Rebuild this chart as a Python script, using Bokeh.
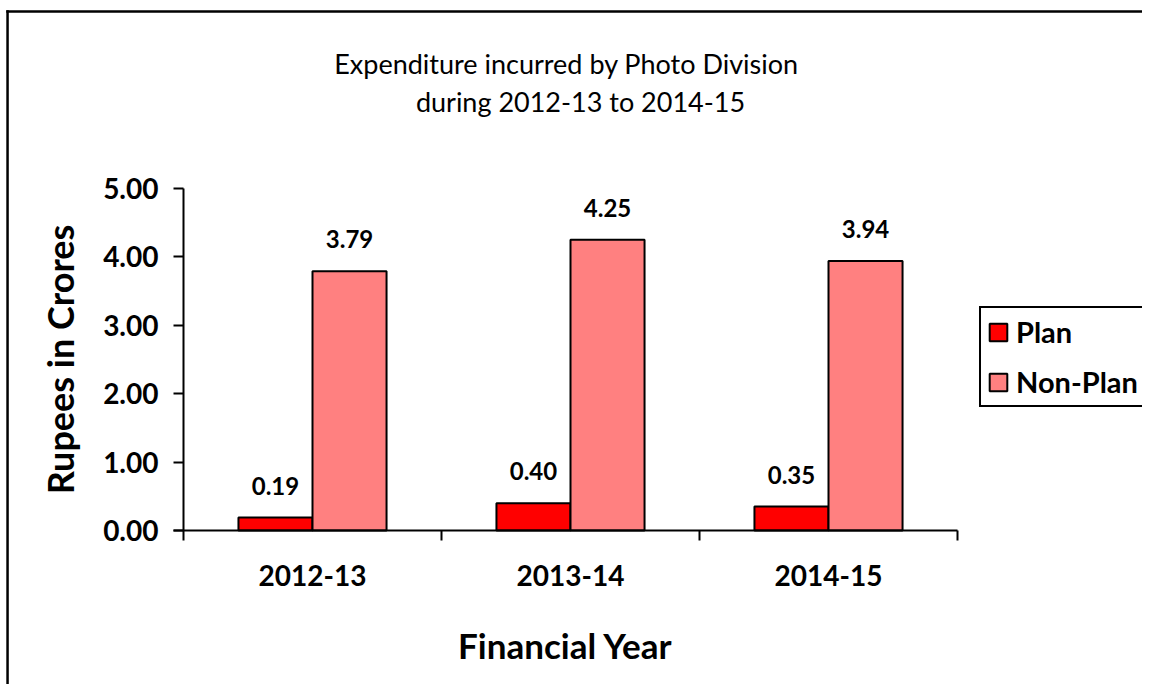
from bokeh.plotting import figure
from bokeh.models import (ColumnDataSource, FixedTicker, LabelSet, Label, Legend,
                          LegendItem, BoxAnnotation, Range1d)
from bokeh.core.properties import value
from bokeh.embed import file_html
from bokeh.resources import INLINE

years = ["2012-13", "2013-14", "2014-15"]
plan = [0.19, 0.40, 0.35]
non_plan = [3.79, 4.25, 3.94]
y_ticks = [0, 1, 2, 3, 4, 5]

FONT = "Lato"
BAR_W = 0.287
OFF = 0.1435

W, H = 1142, 684
# pixel geometry of the plotting area (axes drawn at fixed locations)
X0_PX, X_UNIT = 183.0, 258.0      # x=0 position, px per category
Y0_PX, Y_UNIT = 530.0, 68.4       # y=0 position, px per unit

def dx(px):
    return (px - X0_PX) / X_UNIT

def dy(py):
    return (Y0_PX - py) / Y_UNIT

idx = list(range(len(years)))
src_plan = ColumnDataSource(dict(x=[i + 0.5 - OFF for i in idx], top=plan,
                                 lab=["%.2f" % v for v in plan]))
src_np = ColumnDataSource(dict(x=[i + 0.5 + OFF for i in idx], top=non_plan,
                               lab=["%.2f" % v for v in non_plan]))

p = figure(width=W, height=H, output_backend="svg", toolbar_location=None,
           x_range=Range1d(dx(0), dx(W)), y_range=Range1d(dy(H), dy(0)),
           min_border=0)
p.outline_line_color = None
p.xgrid.visible = False
p.ygrid.visible = False
p.background_fill_color = "white"
p.border_fill_color = "white"

# chart-area border: thin filled strips along the left and top edges
p.add_layout(BoxAnnotation(left=dx(5.8), right=dx(W), top=dy(9.8), bottom=dy(12.3),
                           fill_color="black", fill_alpha=1, line_color=None,
                           level="underlay"))
p.add_layout(BoxAnnotation(left=dx(5.8), right=dx(8.3), top=dy(9.8), bottom=dy(H),
                           fill_color="black", fill_alpha=1, line_color=None,
                           level="underlay"))

r1 = p.vbar(x="x", top="top", width=BAR_W, bottom=0, source=src_plan,
            fill_color="#FF0000", line_color="black", line_width=2)
r2 = p.vbar(x="x", top="top", width=BAR_W, bottom=0, source=src_np,
            fill_color="#FF8080", line_color="black", line_width=2)

for s in (src_plan, src_np):
    p.add_layout(LabelSet(x="x", y="top", text="lab", source=s, y_offset=23,
                          text_align="center", text_baseline="alphabetic",
                          text_font=value(FONT), text_font_style="bold",
                          text_font_size="24px", text_color="black"))

# y axis
ya = p.yaxis[0]
ya.fixed_location = 0
ya.bounds = (0, 5)
ya.ticker = FixedTicker(ticks=y_ticks)
ya.major_label_overrides = {t: "%.2f" % t for t in y_ticks}
ya.major_tick_out = 10
ya.major_tick_in = 0
ya.minor_tick_line_color = None
ya.axis_line_width = 2
ya.major_tick_line_width = 2
ya.axis_line_color = "black"
ya.major_tick_line_color = "black"
ya.major_label_text_font = FONT
ya.major_label_text_font_style = "bold"
ya.major_label_text_font_size = "28px"
ya.major_label_text_color = "black"
ya.major_label_standoff = 15
ya.axis_label = "Rupees in Crores"
ya.axis_label_text_font = FONT
ya.axis_label_text_font_style = "bold"
ya.axis_label_text_font_size = "36px"
ya.axis_label_text_color = "black"
ya.axis_label_standoff = 18

# x axis
xa = p.xaxis[0]
xa.fixed_location = 0
xa.bounds = (dx(173), len(years))
centers = [i + 0.5 for i in idx]
xa.ticker = FixedTicker(ticks=centers, minor_ticks=list(range(len(years) + 1)))
xa.major_label_overrides = {c: y for c, y in zip(centers, years)}
xa.major_tick_line_color = None
xa.major_tick_out = 0
xa.major_tick_in = 0
xa.minor_tick_out = 10
xa.minor_tick_in = 0
xa.minor_tick_line_color = "black"
xa.minor_tick_line_width = 2
xa.axis_line_width = 2
xa.axis_line_color = "black"
xa.major_label_text_font = FONT
xa.major_label_text_font_style = "bold"
xa.major_label_text_font_size = "28px"
xa.major_label_text_color = "black"
xa.major_label_standoff = 24
xa.axis_label = "Financial Year"
xa.axis_label_text_font = FONT
xa.axis_label_text_font_style = "bold"
xa.axis_label_text_font_size = "35px"
xa.axis_label_text_color = "black"
xa.axis_label_standoff = 35

# title (two centred lines)
p.add_layout(Label(x=dx(566), y=dy(63), text="Expenditure incurred by Photo Division",
                   text_align="center", text_baseline="alphabetic",
                   text_font=FONT, text_font_size="27px", text_color="black"))
p.add_layout(Label(x=dx(580), y=dy(101), text="during 2012-13 to 2014-15",
                   text_align="center", text_baseline="alphabetic",
                   text_font=FONT, text_font_size="27px", text_color="black"))

legend = Legend(items=[LegendItem(label="Plan", renderers=[r1]),
                       LegendItem(label="Non-Plan", renderers=[r2])],
                location=(979, H - 407), padding=6, spacing=15, margin=0,
                glyph_width=22, glyph_height=22, label_standoff=7,
                label_width=150, label_height=22,
                label_text_font=FONT, label_text_font_style="bold",
                label_text_font_size="29px", label_text_color="black",
                border_line_color="black", border_line_width=2,
                border_line_alpha=1,
                background_fill_color="white", background_fill_alpha=1)
p.add_layout(legend, "center")

open("out.html", "w").write(file_html(p, INLINE))
